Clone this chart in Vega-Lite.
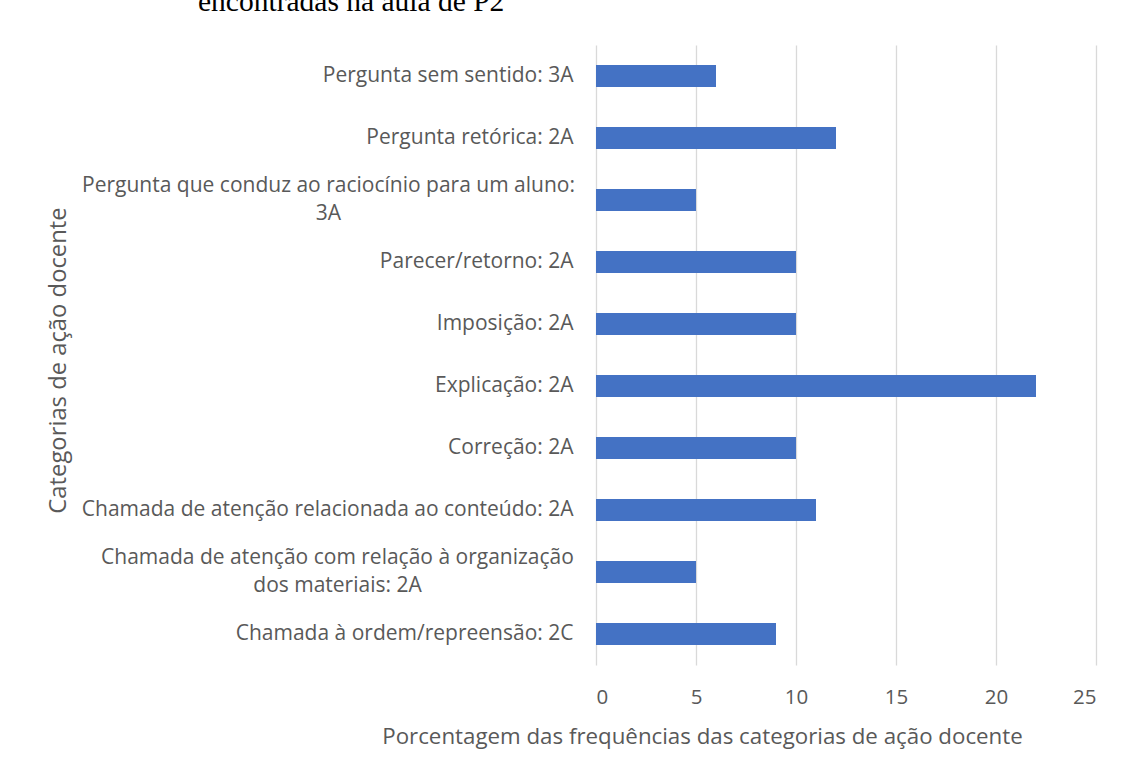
{
  "$schema": "https://vega.github.io/schema/vega-lite/v6.json",
  "width": 500,
  "height": 620,
  "autosize": {"type": "none"},
  "padding": {"left": 596, "top": 45, "right": 28, "bottom": 112},
  "background": "white",
  "title": {
    "text": "encontradas na aula de P2",
    "font": "Liberation Serif",
    "fontSize": 29.5,
    "fontWeight": "normal",
    "color": "#000000",
    "anchor": "start",
    "frame": "group",
    "baseline": "alphabetic",
    "offset": 0,
    "dx": -398,
    "dy": -5
  },
  "data": {
    "values": [
      {"categoria": "Pergunta sem sentido: 3A", "valor": 6},
      {"categoria": "Pergunta retórica: 2A", "valor": 12},
      {"categoria": "Pergunta que conduz ao raciocínio para um aluno: 3A", "valor": 5},
      {"categoria": "Parecer/retorno: 2A", "valor": 10},
      {"categoria": "Imposição: 2A", "valor": 10},
      {"categoria": "Explicação: 2A", "valor": 22},
      {"categoria": "Correção: 2A", "valor": 10},
      {"categoria": "Chamada de atenção relacionada ao conteúdo: 2A", "valor": 11},
      {"categoria": "Chamada de atenção com relação à organização dos materiais: 2A", "valor": 5},
      {"categoria": "Chamada à ordem/repreensão: 2C", "valor": 9}
    ]
  },
  "mark": {"type": "bar", "color": "#4472c4"},
  "encoding": {
    "y": {
      "field": "categoria",
      "type": "nominal",
      "sort": null,
      "scale": {"paddingInner": 0.645, "paddingOuter": 0.3225},
      "axis": {
        "title": "Categorias de ação docente",
        "titleFont": "Open Sans",
        "titleFontSize": 23.8,
        "titleFontWeight": "normal",
        "titleColor": "#595959",
        "titleAngle": -90,
        "titleBaseline": "bottom",
        "titleAlign": "center",
        "titleX": -526,
        "titleY": 315,
        "domain": false,
        "ticks": false,
        "labelFont": "Open Sans",
        "labelFontSize": 21,
        "labelColor": "#595959",
        "labelLimit": 0,
        "labelLineHeight": 28,
        "labelExpr": "datum.value == 'Pergunta que conduz ao raciocínio para um aluno: 3A' ? ['Pergunta que conduz ao raciocínio para um aluno:', '3A'] : datum.value == 'Chamada de atenção com relação à organização dos materiais: 2A' ? ['Chamada de atenção com relação à organização', 'dos materiais: 2A'] : datum.value",
        "labelAlign": {
          "condition": {"test": "length(datum.value) > 48", "value": "center"},
          "value": "right"
        },
        "labelOffset": {
          "condition": {"test": "length(datum.value) > 48", "value": -14},
          "value": 0
        },
        "labelPadding": {
          "condition": [
            {"test": "datum.value == 'Pergunta que conduz ao raciocínio para um aluno: 3A'", "value": 268},
            {"test": "datum.value == 'Chamada de atenção com relação à organização dos materiais: 2A'", "value": 259}
          ],
          "value": 23
        }
      }
    },
    "x": {
      "field": "valor",
      "type": "quantitative",
      "scale": {"domain": [0, 25], "nice": false},
      "axis": {
        "title": "Porcentagem das frequências das categorias de ação docente",
        "titleFont": "Open Sans",
        "titleFontSize": 22.3,
        "titleFontWeight": "normal",
        "titleColor": "#595959",
        "titleBaseline": "alphabetic",
        "titleAlign": "center",
        "titleX": 106,
        "titleY": 78,
        "values": [0, 5, 10, 15, 20, 25],
        "domain": false,
        "ticks": false,
        "grid": true,
        "gridColor": "#d9d9d9",
        "gridWidth": 1.3,
        "labelFont": "Open Sans",
        "labelFontSize": 20.5,
        "labelColor": "#595959",
        "labelPadding": 22
      }
    }
  },
  "config": {
    "view": {"stroke": null},
    "axis": {"gridColor": "#d9d9d9"}
  }
}
